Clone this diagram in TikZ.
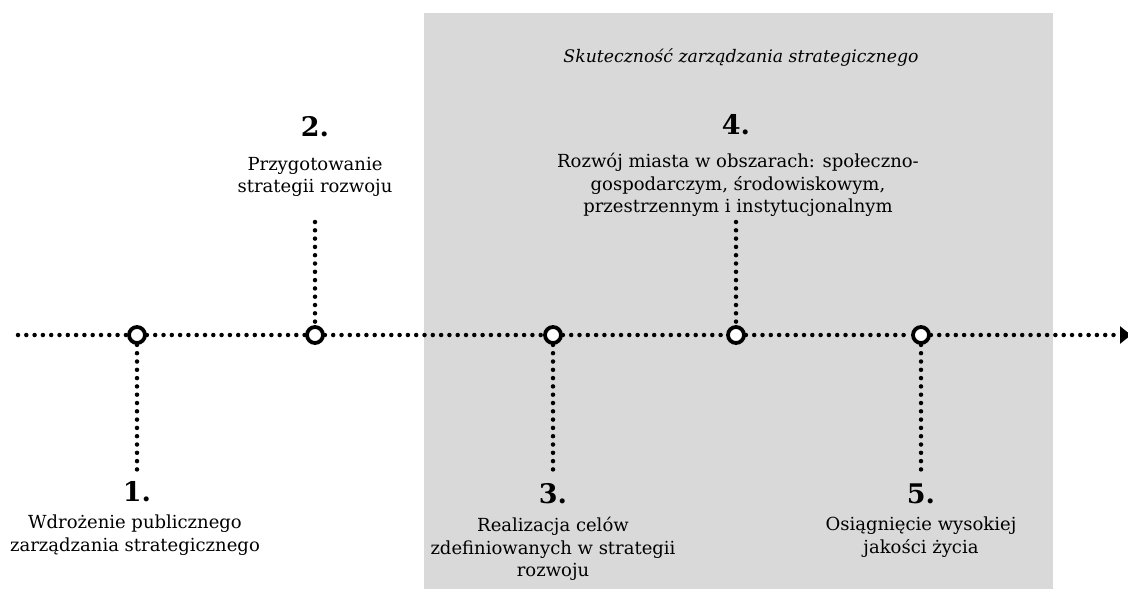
\documentclass[tikz,border=0pt]{standalone}
\usepackage{fontspec}
\setmainfont{DejaVu Serif}
\usetikzlibrary{arrows.meta, positioning}

\tikzset{
  dots/.style={line width=4.5pt, line cap=round, dash pattern=on 0pt off 8.3pt},
  milestone/.style={circle, draw, line width=3.8pt, fill=white, minimum size=16pt, inner sep=0pt},
  stepnum/.style={font=\fontsize{27}{30}\selectfont\bfseries, inner sep=0pt, anchor=base},
  steptext/.style={font=\fontsize{18}{22.5}\selectfont, align=center, inner sep=0pt, anchor=north},
}

\begin{document}
\begin{tikzpicture}[x=1pt, y=-1pt]
    \useasboundingbox (0,0) rectangle (1128,589);
    % tło obszaru skuteczności
    \fill[black!15] (424,13) rectangle (1053,589);
    \node[font=\fontsize{17.3}{20}\selectfont\itshape, inner sep=0pt, anchor=base] (title) at (741,62) {Skuteczność zarządzania strategicznego};

    % punkty na osi czasu
    \node[milestone] (m1) at (137,335) {};
    \node[milestone] (m2) at (315,335) {};
    \node[milestone] (m3) at (553,335) {};
    \node[milestone] (m4) at (736,335) {};
    \node[milestone] (m5) at (921,335) {};
    \coordinate (start) at (18,335);
    \coordinate (end) at (1131,335);

    % oś czasu
    \draw[dots] (start) -- (m1);
    \draw[dots] (m1) -- (m2);
    \draw[dots] (m2) -- (m3);
    \draw[dots] (m3) -- (m4);
    \draw[dots] (m4) -- (m5);
    \draw[dots, -{Triangle[width=17pt, length=11pt]}] (m5) -- (end);

    % etapy
    \node[stepnum] (num1) at (137,501) {1.};
    \node[steptext] (txt1) at (135,515) {Wdrożenie publicznego\\zarządzania strategicznego};
    \node[stepnum] (num2) at (315,136) {2.};
    \node[steptext] (txt2) at (315,157) {Przygotowanie\\strategii rozwoju};
    \node[stepnum] (num3) at (553,503) {3.};
    \node[steptext] (txt3) at (553,517) {Realizacja celów\\zdefiniowanych w strategii\\rozwoju};
    \node[stepnum] (num4) at (736,134) {4.};
    \node[steptext] (txt4) at (738,153) {Rozwój miasta w obszarach: społeczno-\\gospodarczym, środowiskowym,\\przestrzennym i instytucjonalnym};
    \node[stepnum] (num5) at (921,503) {5.};
    \node[steptext] (txt5) at (921,517) {Osiągnięcie wysokiej\\jakości życia};

    % linie pionowe
    \coordinate (b1) at (137,470);
    \coordinate (t2) at (315,222);
    \coordinate (b3) at (553,470);
    \coordinate (t4) at (736,222);
    \coordinate (b5) at (921,470);
    \draw[dots] (m1) -- (b1);
    \draw[dots] (t2) -- (m2);
    \draw[dots] (m3) -- (b3);
    \draw[dots] (t4) -- (m4);
    \draw[dots] (m5) -- (b5);
\end{tikzpicture}
\end{document}
